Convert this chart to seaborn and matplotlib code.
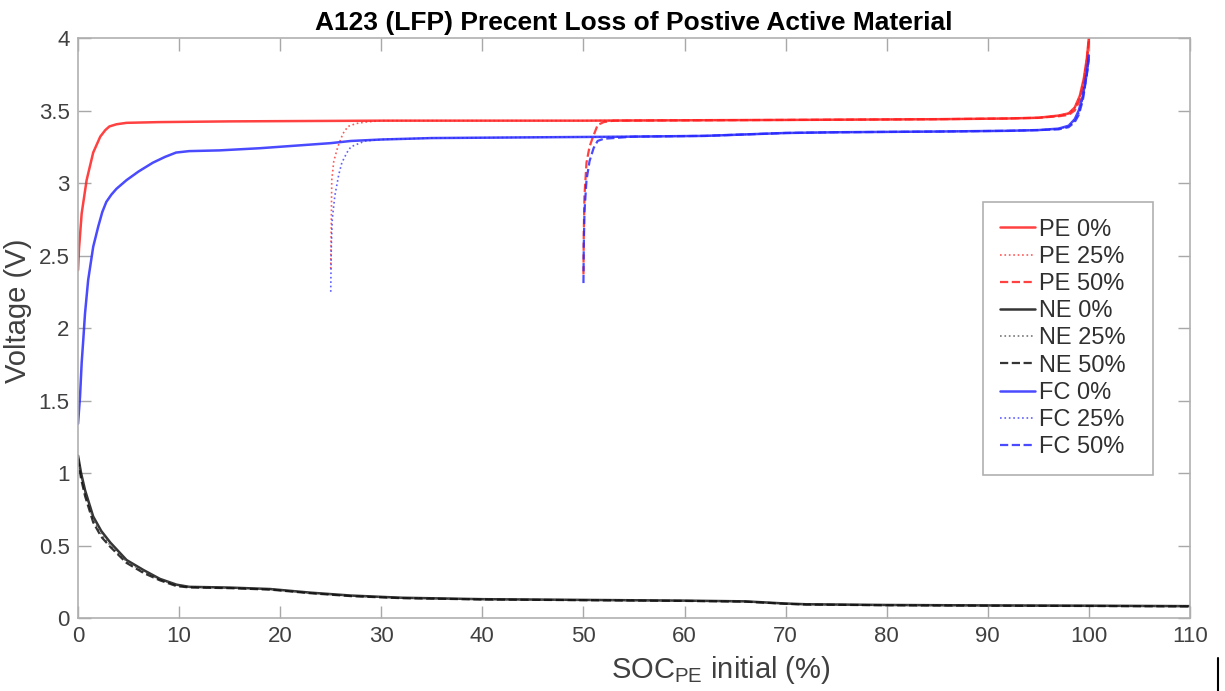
import matplotlib
matplotlib.use("Agg")
import matplotlib.pyplot as plt
import seaborn as sns
from matplotlib.lines import Line2D

# ---------------- data ----------------
pe0_x = [0, 0.1, 0.36, 0.85, 1.5, 2.2, 2.7, 3.1, 3.8, 4.8, 8, 15, 30, 50, 70, 85, 92, 95, 97, 98, 98.6, 99.1, 99.5, 99.8, 100]
pe0_v = [2.40, 2.55, 2.79, 3.02, 3.21, 3.32, 3.365, 3.39, 3.405, 3.415, 3.42, 3.425, 3.43, 3.43, 3.435, 3.44, 3.445, 3.45, 3.465, 3.48, 3.52, 3.60, 3.72, 3.86, 4.00]

pe25_x = [25, 25.05, 25.1, 25.3, 25.7, 26.2, 26.7, 27.5, 28.4, 30, 50, 70, 85, 92, 95, 97, 98, 98.6, 99.1, 99.5, 99.8, 100]
pe25_v = [2.41, 2.70, 3.02, 3.15, 3.25, 3.34, 3.39, 3.41, 3.42, 3.43, 3.43, 3.435, 3.44, 3.445, 3.45, 3.465, 3.48, 3.52, 3.60, 3.72, 3.86, 4.00]

pe50_x = [50, 50.03, 50.1, 50.3, 50.6, 50.9, 51.4, 52, 53, 70, 85, 92, 95, 97, 98, 98.6, 99.1, 99.5, 99.8, 100]
pe50_v = [2.37, 2.65, 2.91, 3.14, 3.25, 3.31, 3.40, 3.42, 3.43, 3.435, 3.44, 3.445, 3.45, 3.46, 3.47, 3.50, 3.57, 3.68, 3.84, 3.98]

ne0_x = [0, 0.3, 0.7, 1.5, 2.3, 3.2, 4.8, 6.5, 8.1, 9.75, 11, 15, 19, 23, 27, 32, 40, 50, 60, 66, 70, 72, 80, 90, 100, 110]
ne0_v = [1.12, 1.00, 0.88, 0.70, 0.60, 0.52, 0.40, 0.33, 0.27, 0.23, 0.215, 0.21, 0.20, 0.175, 0.155, 0.14, 0.13, 0.125, 0.12, 0.115, 0.10, 0.095, 0.09, 0.087, 0.085, 0.082]

ne25_x = [0, 0.3, 0.7, 1.5, 2.3, 3.2, 4.8, 6.5, 8.1, 9.75, 11, 15, 19, 23, 27, 32, 40, 50, 60, 66, 70, 72, 80, 90, 100, 110]
ne25_v = [1.11, 0.98, 0.86, 0.68, 0.58, 0.50, 0.39, 0.32, 0.265, 0.225, 0.213, 0.208, 0.198, 0.173, 0.153, 0.139, 0.129, 0.124, 0.119, 0.114, 0.099, 0.094, 0.089, 0.086, 0.084, 0.081]

ne50_x = [0, 0.3, 0.7, 1.5, 2.3, 3.2, 4.8, 6.5, 8.1, 9.75, 11, 15, 19, 23, 27, 32, 40, 50, 60, 66, 70, 72, 80, 90, 100, 110]
ne50_v = [1.10, 0.96, 0.84, 0.66, 0.56, 0.49, 0.38, 0.31, 0.26, 0.22, 0.211, 0.206, 0.196, 0.171, 0.151, 0.137, 0.128, 0.123, 0.118, 0.113, 0.098, 0.093, 0.088, 0.085, 0.083, 0.080]

fc0_x = [0, 0.2, 0.36, 0.52, 0.69, 1.0, 1.5, 2.0, 2.4, 2.8, 3.3, 3.8, 4.8, 6, 7.4, 8.6, 9.7, 11, 14, 18, 22, 25, 27, 30, 35, 45, 55, 62, 66, 70, 75, 85, 92, 95, 97, 98, 98.6, 99, 99.4, 99.8, 100]
fc0_v = [1.34, 1.53, 1.76, 1.92, 2.10, 2.33, 2.56, 2.70, 2.80, 2.87, 2.92, 2.96, 3.02, 3.08, 3.14, 3.18, 3.21, 3.22, 3.225, 3.24, 3.26, 3.275, 3.29, 3.30, 3.31, 3.315, 3.32, 3.325, 3.335, 3.345, 3.35, 3.355, 3.36, 3.365, 3.375, 3.395, 3.44, 3.50, 3.60, 3.76, 3.88]

fc25_x = [25, 25.05, 25.15, 25.4, 25.8, 26.1, 26.6, 27.0, 28.4, 30, 35, 45, 55, 62, 66, 70, 75, 85, 92, 95, 97, 98, 98.6, 99, 99.4, 99.8, 100]
fc25_v = [2.25, 2.55, 2.75, 2.91, 3.06, 3.14, 3.21, 3.25, 3.29, 3.30, 3.31, 3.315, 3.32, 3.325, 3.335, 3.345, 3.35, 3.355, 3.36, 3.365, 3.375, 3.39, 3.43, 3.48, 3.58, 3.74, 3.87]

fc50_x = [50, 50.03, 50.1, 50.3, 50.6, 51.0, 51.4, 52, 55, 62, 66, 70, 75, 85, 92, 95, 97, 98, 98.6, 99, 99.4, 99.8, 100]
fc50_v = [2.31, 2.56, 2.80, 3.02, 3.15, 3.24, 3.29, 3.305, 3.32, 3.325, 3.335, 3.345, 3.35, 3.355, 3.36, 3.365, 3.37, 3.385, 3.42, 3.47, 3.57, 3.75, 3.86]

series_names = ["PE 0%", "PE 25%", "PE 50%", "NE 0%", "NE 25%", "NE 50%", "FC 0%", "FC 25%", "FC 50%"]
x_ticks = [0, 10, 20, 30, 40, 50, 60, 70, 80, 90, 100, 110]
y_ticks = [0, 0.5, 1, 1.5, 2, 2.5, 3, 3.5, 4]
y_tick_labels = ["0", "0.5", "1", "1.5", "2", "2.5", "3", "3.5", "4"]

# ---------------- style ----------------
sns.set_style("white")
plt.rcParams["font.family"] = ["Liberation Sans", "DejaVu Sans"]
plt.rcParams["mathtext.fontset"] = "custom"
plt.rcParams["mathtext.rm"] = "Liberation Sans"
plt.rcParams["mathtext.it"] = "Liberation Sans"

fig = plt.figure(figsize=(12.25, 6.91), dpi=100)
ax = fig.add_axes([0.0637, 0.1056, 0.9077, 0.8394])

RED = "#ff2020"
BLACK = "#111111"
BLUE = "#2a2aff"

data = [
    (pe0_x, pe0_v, RED, "-", 1.8, 0.85),
    (pe25_x, pe25_v, RED, ":", 1.2, 0.75),
    (pe50_x, pe50_v, RED, "--", 1.6, 0.85),
    (ne0_x, ne0_v, BLACK, "-", 1.8, 0.85),
    (ne25_x, ne25_v, "#555555", ":", 1.2, 0.8),
    (ne50_x, ne50_v, BLACK, "--", 1.6, 0.85),
    (fc0_x, fc0_v, BLUE, "-", 1.8, 0.85),
    (fc25_x, fc25_v, BLUE, ":", 1.2, 0.75),
    (fc50_x, fc50_v, BLUE, "--", 1.6, 0.85),
]

for (xs, vs, col, ls, lw, al), name in zip(data, series_names):
    sns.lineplot(x=xs, y=vs, ax=ax, sort=False, estimator=None, color=col,
                 linestyle=ls, linewidth=lw, alpha=al, label=name)

ax.set_xlim(0, 110)
ax.set_ylim(0, 4)
ax.set_xticks(x_ticks)
ax.set_yticks(y_ticks)
ax.set_yticklabels(y_tick_labels)

tick_col = "#404040"
ax.tick_params(axis="both", which="both", direction="in", length=9, width=1,
               color="#a8a8a8", labelsize=16, labelcolor=tick_col,
               top=True, right=True, bottom=True, left=True, pad=6)
for sp in ax.spines.values():
    sp.set_visible(True)
    sp.set_color("#b0b0b0")
    sp.set_linewidth(1.2)

ax.set_title("A123 (LFP) Precent Loss of Postive Active Material",
             fontsize=19, fontweight="bold", color="black", pad=6)
ax.set_ylabel("Voltage (V)", fontsize=21, color=tick_col)
ax.yaxis.set_label_coords(-0.041, 0.53)
ax.set_xlabel(r"SOC$_{\mathrm{PE}}$ initial (%)", fontsize=21, color=tick_col)
ax.xaxis.set_label_coords(0.578, -0.062)

leg = ax.legend(loc="upper left", bbox_to_anchor=(0.814, 0.716, 0.153, 0.001),
                mode="expand", fontsize=17,
                frameon=True, fancybox=False, framealpha=1, edgecolor="#b0b0b0",
                handlelength=1.5, handletextpad=0.15, labelspacing=0.22,
                borderpad=0.7, borderaxespad=0)
leg.get_frame().set_linewidth(1.2)
for t in leg.get_texts():
    t.set_color("#303030")

# stray mark at lower right of the reference image
fig.add_artist(Line2D([0.9945, 0.9945], [0.0, 0.048], color="black", linewidth=1.5,
                      transform=fig.transFigure))

fig.savefig("out.png", dpi=100)
